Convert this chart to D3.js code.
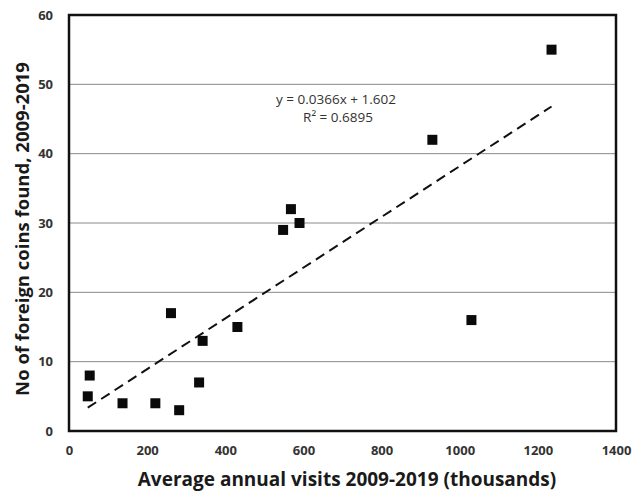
<!DOCTYPE html>
<html>
<head>
<meta charset="utf-8">
<script src="https://cdn.jsdelivr.net/npm/d3@7"></script>
<style>
  html, body { margin: 0; padding: 0; background: #fff; }
  svg { display: block; font-family: "Open Sans", Lato, sans-serif; }
</style>
</head>
<body>
<div id="grafico"></div>
<script>
// visitas medias anuales (miles) y monedas extranjeras encontradas
var visitas = [1235, 930, 568, 590, 548, 1030, 261, 431, 342, 333, 53, 48, 137, 221, 282];
var monedas = [55, 42, 32, 30, 29, 16, 17, 15, 13, 7, 8, 5, 4, 4, 3];

var ticksX = [0, 200, 400, 600, 800, 1000, 1200, 1400];
var ticksY = [0, 10, 20, 30, 40, 50, 60];

// recta de tendencia tal como sale en la etiqueta
var pendiente = 0.0366;
var corte = 1.602;
var etiquetaTendencia = ["y = 0.0366x + 1.602", "R\u00b2 = 0.6895"];

(function () {
  var ancho = 634, alto = 492;
  var margen = { top: 15, right: 18, bottom: 61, left: 69 };
  var FUENTE = "'Open Sans', sans-serif";

  var svg = d3.select("#grafico").append("svg")
    .attr("width", ancho)
    .attr("height", alto);

  var x = d3.scaleLinear().domain([0, 1400]).range([margen.left, ancho - margen.right]);
  var y = d3.scaleLinear().domain([0, 60]).range([alto - margen.bottom, margen.top]);

  // lineas horizontales grises
  svg.append("g").selectAll("line")
    .data(ticksY.slice(1, -1))
    .enter().append("line")
    .attr("x1", x(0)).attr("x2", x(1400))
    .attr("y1", function (d) { return y(d); })
    .attr("y2", function (d) { return y(d); })
    .attr("stroke", "#8a8a8a")
    .attr("stroke-width", 1);

  // marco negro grueso
  svg.append("rect")
    .attr("x", x(0)).attr("y", y(60))
    .attr("width", x(1400) - x(0))
    .attr("height", y(0) - y(60))
    .attr("fill", "none")
    .attr("stroke", "#111")
    .attr("stroke-width", 2.5);

  // ejes con d3 pero sin dominio ni marcas, solo los numeros
  var ejeX = svg.append("g")
    .attr("transform", "translate(0," + y(0) + ")")
    .call(d3.axisBottom(x).tickValues(ticksX).tickFormat(d3.format("d")).tickSize(0).tickPadding(15));
  var ejeY = svg.append("g")
    .attr("transform", "translate(" + x(0) + ",0)")
    .call(d3.axisLeft(y).tickValues(ticksY).tickFormat(d3.format("d")).tickSize(0).tickPadding(16));

  [ejeX, ejeY].forEach(function (eje) {
    eje.select(".domain").remove();
    eje.selectAll("text")
      .attr("font-family", FUENTE)
      .attr("font-size", 13)
      .attr("font-weight", "bold")
      .attr("fill", "#333");
  });

  // tendencia punteada desde el minimo al maximo de x
  var x0 = d3.min(visitas), x1 = d3.max(visitas);
  svg.append("line")
    .attr("x1", x(x0)).attr("y1", y(pendiente * x0 + corte))
    .attr("x2", x(x1)).attr("y2", y(pendiente * x1 + corte))
    .attr("stroke", "#111")
    .attr("stroke-width", 2)
    .attr("stroke-dasharray", "10,6");

  // puntos cuadrados
  var lado = 10;
  svg.append("g").selectAll("rect")
    .data(visitas)
    .enter().append("rect")
    .attr("x", function (d) { return x(d) - lado / 2; })
    .attr("y", function (d, i) { return y(monedas[i]) - lado / 2; })
    .attr("width", lado)
    .attr("height", lado)
    .attr("fill", "#0a0a0a");

  // etiqueta de la ecuacion
  var eq = svg.append("text")
    .attr("font-family", FUENTE)
    .attr("font-size", 13.5)
    .attr("fill", "#333")
    .attr("text-anchor", "middle");
  eq.append("tspan").attr("x", 336).attr("y", 104).text(etiquetaTendencia[0]);
  eq.append("tspan").attr("x", 338).attr("y", 122).text(etiquetaTendencia[1]);

  // titulos de ejes
  svg.append("text")
    .attr("x", 347).attr("y", 486)
    .attr("text-anchor", "middle")
    .attr("font-family", FUENTE)
    .attr("font-size", 19)
    .attr("font-weight", "bold")
    .attr("fill", "#1a1a1a")
    .text("Average annual visits 2009-2019 (thousands)");

  svg.append("text")
    .attr("transform", "translate(29,229) rotate(-90)")
    .attr("text-anchor", "middle")
    .attr("font-family", FUENTE)
    .attr("font-size", 18.5)
    .attr("font-weight", "bold")
    .attr("fill", "#1a1a1a")
    .text("No of foreign coins found, 2009-2019");
})();
</script>
</body>
</html>
